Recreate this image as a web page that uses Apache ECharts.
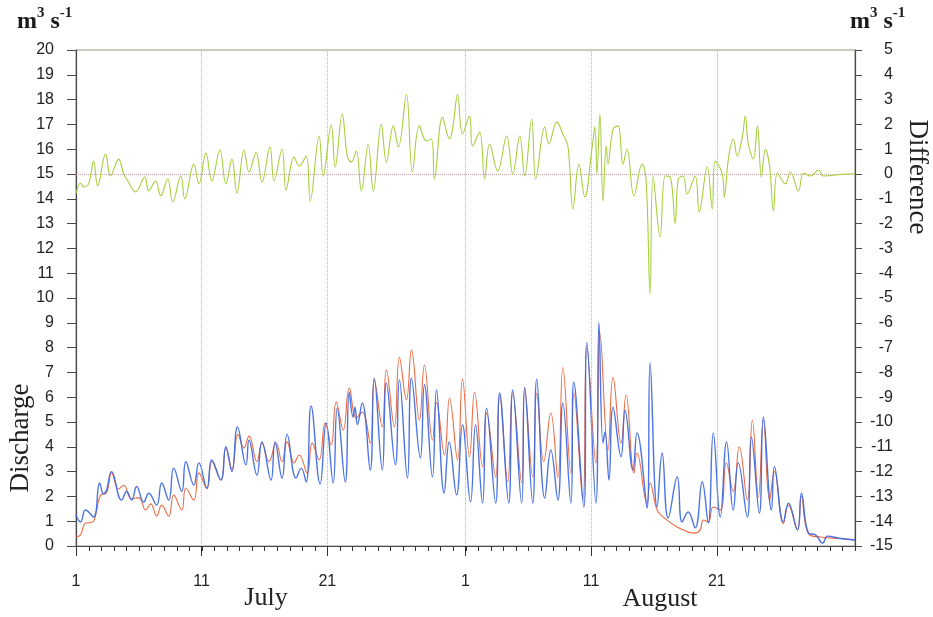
<!DOCTYPE html>
<html>
<head>
<meta charset="utf-8">
<script src="https://cdn.jsdelivr.net/npm/echarts@6/dist/echarts.min.js"></script>
<style>
  html, body { margin: 0; padding: 0; background: #ffffff; }
  #chart { width: 933px; height: 617px; }
</style>
</head>
<body>
<div id="chart"></div>
<script>
// Time axis: days since 1 July (0 = 1 July, 31 = 1 August, 62 = 1 September)
const dayTickValues = [0, 10, 20, 31, 41, 51];
const dayTickLabels = ['1', '11', '21', '1', '11', '21'];
const monthLabels = ['July', 'August'];

// Discharge (m3 s-1), blue trace: [day, value] at daily highs and lows
const dischargeSeriesA = [
  [0, 1.25], [0.36, 0.97], [0.76, 1.45], [1.4, 1.17], [1.88, 2.54], [2.19, 2.1], [2.43, 2.26], [2.83, 3.0],
  [3.63, 1.85], [4.03, 2.2], [4.43, 1.85], [4.83, 2.4], [5.39, 1.77], [5.79, 2.13], [6.42, 1.65], [6.82, 2.54],
  [7.38, 1.85], [7.78, 3.14], [8.42, 2.2], [8.74, 3.4], [9.38, 2.46], [9.78, 3.35], [10.42, 2.34], [10.81, 3.47],
  [11.53, 2.66], [11.93, 4.0], [12.41, 3.0], [12.85, 4.8], [13.53, 3.27], [13.77, 4.27], [14.4, 2.86], [14.8, 4.2],
  [15.52, 2.66], [15.84, 4.2], [16.4, 2.74], [16.8, 4.5], [17.52, 2.74], [17.92, 3.14], [18.32, 2.58], [18.71, 5.65],
  [19.43, 2.5], [19.91, 4.96], [20.47, 2.54], [20.79, 5.56], [21.43, 2.58], [21.75, 6.2], [22.05, 5.2], [22.2, 5.6],
  [22.4, 4.9], [22.78, 5.77], [23.42, 3.06], [23.74, 6.77], [24.38, 3.06], [24.7, 6.57], [25.42, 3.27], [25.74, 6.7],
  [26.38, 2.74], [26.7, 6.77], [27.41, 3.55], [27.73, 6.5], [28.37, 2.78], [28.69, 6.3], [29.3, 2.14], [29.7, 4.2],
  [30.29, 2.06], [30.76, 4.88], [31.4, 1.77], [31.8, 4.88], [32.36, 1.73], [32.68, 5.56], [33.4, 1.73], [33.72, 6.17],
  [34.44, 1.73], [34.76, 6.29], [35.47, 1.73], [35.71, 6.4], [36.35, 1.73], [36.67, 6.73], [37.31, 1.93], [37.79, 3.87],
  [38.35, 1.85], [38.75, 5.77], [39.39, 1.73], [39.62, 6.6], [40.42, 1.57], [40.66, 8.2], [41.38, 1.73], [41.62, 9.0],
  [41.94, 4.15], [42.1, 4.6], [42.42, 2.66], [42.74, 5.6], [43.38, 3.6], [43.7, 5.48], [44.33, 3.06], [44.65, 4.56],
  [45.45, 1.53], [45.69, 7.38], [46.25, 1.57], [46.65, 3.75], [47.13, 1.13], [47.85, 2.78], [48.24, 0.97], [48.72, 1.37],
  [49.28, 0.73], [49.84, 2.58], [50.32, 0.93], [50.72, 4.56], [51.28, 1.17], [51.78, 4.2], [52.31, 1.45], [52.71, 3.35],
  [53.43, 1.17], [53.75, 4.4], [54.39, 1.33], [54.71, 5.2], [55.35, 1.45], [55.59, 3.2], [56.3, 0.97], [56.7, 1.73],
  [57.42, 0.65], [57.74, 2.13], [58.3, 0.52], [58.86, 0.45], [59.42, 0.12], [59.82, 0.4], [60.86, 0.3], [62, 0.24]
];

// Discharge (m3 s-1), red trace
const dischargeSeriesB = [
  [0, 0.36], [0.36, 0.45], [0.76, 0.93], [1.16, 0.95], [1.4, 1.0], [1.56, 1.25], [1.96, 2.05], [2.43, 2.15],
  [2.83, 2.95], [3.39, 2.3], [3.79, 2.45], [4.43, 1.9], [4.99, 1.95], [5.55, 1.45], [5.95, 1.7], [6.42, 1.2],
  [6.82, 1.65], [7.38, 1.2], [7.78, 2.05], [8.42, 1.45], [8.74, 2.34], [9.38, 1.85], [9.78, 2.95], [10.42, 2.3],
  [10.81, 3.4], [11.53, 2.66], [11.93, 3.95], [12.41, 3.1], [12.89, 4.5], [13.37, 3.95], [13.77, 4.43], [14.4, 3.4],
  [14.8, 4.15], [15.36, 3.4], [15.92, 4.15], [16.4, 3.4], [16.8, 4.2], [17.36, 3.35], [17.76, 3.67], [18.4, 2.94],
  [18.8, 4.15], [19.35, 3.47], [19.83, 4.96], [20.31, 4.07], [20.71, 5.8], [21.27, 4.68], [21.75, 6.37], [22.31, 5.16],
  [22.78, 5.4], [23.42, 4.15], [23.74, 6.7], [24.38, 4.8], [24.7, 7.1], [25.34, 4.8], [25.74, 7.6], [26.3, 5.9],
  [26.7, 7.9], [27.33, 5.08], [27.73, 7.3], [28.37, 4.27], [28.69, 5.77], [29.33, 3.67], [29.73, 5.97], [30.37, 3.47],
  [30.76, 6.73], [31.32, 3.6], [31.72, 6.2], [32.36, 3.2], [32.68, 5.36], [33.4, 2.78], [33.72, 6.1], [34.36, 2.58],
  [34.76, 6.17], [35.47, 2.54], [35.71, 6.37], [36.35, 2.78], [36.67, 6.17], [37.23, 3.4], [37.79, 5.36], [38.35, 2.75],
  [38.75, 7.2], [39.39, 2.94], [39.62, 6.17], [40.34, 1.85], [40.66, 8.0], [41.38, 3.35], [41.7, 8.6], [42.34, 3.87],
  [42.74, 6.8], [43.38, 4.15], [43.78, 6.1], [44.41, 2.94], [44.65, 3.75], [45.45, 1.73], [45.69, 2.54], [46.25, 1.45],
  [46.73, 1.17], [47.85, 0.77], [49.28, 0.52], [49.68, 0.65], [49.92, 1.05], [50.32, 0.97], [50.72, 1.57], [51.28, 1.45],
  [51.76, 3.35], [52.31, 2.2], [52.79, 4.0], [53.43, 1.85], [53.83, 5.08], [54.31, 1.97], [54.71, 5.08], [55.2, 1.85],
  [55.59, 3.0], [56.3, 0.9], [56.7, 1.65], [57.42, 0.65], [57.74, 2.0], [58.3, 0.5], [59.26, 0.36], [60.86, 0.3], [62, 0.24]
];

// Difference between the two traces (m3 s-1), right-hand scale
const differenceSeries = [
  [0, -0.8], [0.36, -0.36], [0.6, -0.52], [1.0, -0.4], [1.4, 0.52], [1.72, -0.48], [2.35, 0.8], [2.75, -0.08],
  [3.39, 0.6], [3.79, 0.0], [4.03, -0.2], [4.75, -0.72], [5.47, -0.12], [5.79, -0.68], [6.34, -0.28], [6.74, -0.88],
  [7.3, -0.2], [7.7, -1.13], [8.34, -0.08], [8.66, -1.0], [9.38, 0.4], [9.78, -0.4], [10.34, 0.85], [10.81, -0.28],
  [11.45, 0.97], [11.93, -0.4], [12.41, 0.6], [12.81, -0.77], [13.37, 0.97], [13.77, 0.08], [14.33, 0.85], [14.8, -0.32],
  [15.44, 1.09], [15.76, -0.28], [16.4, 1.0], [16.72, -0.64], [17.36, 0.68], [17.76, 0.32], [18.32, 0.72], [18.64, -1.09],
  [19.35, 1.53], [19.67, -0.08], [20.31, 1.97], [20.63, 0.28], [21.19, 2.42], [21.59, 0.72], [21.91, 0.48], [22.31, 0.93],
  [22.71, -0.68], [23.26, 1.21], [23.66, -0.68], [24.3, 2.0], [24.7, 0.48], [25.26, 1.94], [25.66, 1.09], [26.3, 3.2],
  [26.77, 0.08], [27.33, 1.94], [27.89, 1.33], [28.29, 1.41], [28.53, -0.2], [29.17, 2.3], [29.73, 1.41], [29.97, 1.81],
  [30.37, 3.2], [30.76, 1.61], [31.32, 2.34], [31.56, 1.13], [32.12, 1.69], [32.52, -0.2], [32.92, 1.21], [33.56, 0.12],
  [34.28, 1.53], [34.76, 0.0], [35.32, 1.53], [35.71, -0.08], [36.27, 2.22], [36.59, -0.2], [37.31, 1.9], [37.63, 1.21],
  [38.27, 2.1], [38.75, 1.61], [39.15, 1.13], [39.55, -1.41], [40.02, 0.4], [40.5, -0.93], [41.06, 1.0], [41.3, 1.9],
  [41.46, 0.0], [41.7, 2.42], [41.94, -1.09], [42.2, 1.13], [42.34, 0.4], [42.74, 1.81], [43.14, 1.94], [43.53, 0.4],
  [43.85, 1.0], [44.41, -0.89], [45.05, 0.4], [45.37, -0.2], [45.69, -4.84], [45.93, -0.08], [46.49, -2.54], [46.89, -0.08],
  [47.29, -0.12], [47.69, -2.0], [47.93, -0.2], [48.32, -0.08], [48.64, -0.8], [49.28, -0.08], [49.6, -1.53], [50.24, 0.28],
  [50.64, -1.41], [50.88, 0.52], [51.44, 0.0], [51.6, -0.93], [51.92, 0.6], [52.31, 1.41], [52.63, 0.72], [53.03, 1.49],
  [53.27, 2.34], [53.51, 1.21], [53.91, 0.6], [54.23, 1.94], [54.55, -0.12], [54.87, 1.0], [55.2, 0.32], [55.51, -1.49],
  [55.83, 0.04], [56.46, -0.4], [56.86, 0.08], [57.5, -0.68], [57.9, 0.04], [58.46, -0.08], [59.1, 0.16], [59.5, -0.08],
  [61.5, 0], [62, 0]
];

const chart = echarts.init(document.getElementById('chart'));

const sansFont = '"Liberation Sans", Arial, sans-serif';
const serifFont = '"Liberation Serif", "Times New Roman", serif';
const axisColor = '#4a4a4a';

// Superscript unit label "m3 s-1"
function unitText(x) {
  return {
    type: 'text',
    left: x,
    top: 6,
    style: {
      text: '{b|m}{s|3}{b| s}{s|-1}',
      rich: {
        b: { fontFamily: serifFont, fontWeight: 'bold', fontSize: 24, fill: '#1a1a1a', verticalAlign: 'bottom', lineHeight: 28 },
        s: { fontFamily: serifFont, fontWeight: 'bold', fontSize: 15, fill: '#1a1a1a', verticalAlign: 'top', lineHeight: 28 }
      }
    }
  };
}

const textGraphics = [
  unitText(17),
  unitText(850),
  {
    type: 'text', x: 21, y: 438, rotation: Math.PI / 2,
    style: { text: 'Discharge', fontFamily: serifFont, fontSize: 27, fill: '#222', align: 'center', verticalAlign: 'middle' }
  },
  {
    type: 'text', x: 917, y: 177, rotation: -Math.PI / 2,
    style: { text: 'Difference', fontFamily: serifFont, fontSize: 27, fill: '#222', align: 'center', verticalAlign: 'middle' }
  },
  {
    type: 'text', x: 266, y: 598,
    style: { text: monthLabels[0], fontFamily: serifFont, fontSize: 26, fill: '#222', align: 'center', verticalAlign: 'middle' }
  },
  {
    type: 'text', x: 660, y: 599,
    style: { text: monthLabels[1], fontFamily: serifFont, fontSize: 26, fill: '#222', align: 'center', verticalAlign: 'middle' }
  }
];

const option = {
  animation: false,
  backgroundColor: '#ffffff',
  grid: {
    left: 76, right: 78, top: 50, bottom: 71,
    show: true, borderColor: '#8f9a80', borderWidth: 1, backgroundColor: 'transparent'
  },
  xAxis: [
    {
      // labelled axis with long ticks on the 1st, 11th and 21st
      type: 'value', min: 0, max: 62, position: 'bottom',
      axisLine: { show: true, onZero: false, lineStyle: { color: axisColor, width: 1 } },
      axisTick: { show: true, length: 10, customValues: dayTickValues, lineStyle: { color: '#333' } },
      axisLabel: {
        margin: 28, fontSize: 16, fontFamily: sansFont, color: '#222',
        customValues: dayTickValues,
        formatter: function (v) {
          const i = dayTickValues.indexOf(v);
          return i >= 0 ? dayTickLabels[i] : '';
        }
      },
      splitLine: { show: false }
    }
  ],
  yAxis: [
    {
      type: 'value', min: 0, max: 20, interval: 1, position: 'left',
      axisLine: { show: true, onZero: false, lineStyle: { color: axisColor, width: 1.2 } },
      axisTick: { show: true, length: 9, lineStyle: { color: axisColor } },
      axisLabel: { margin: 22, fontSize: 16, fontFamily: sansFont, color: '#222' },
      splitLine: { show: false }
    },
    {
      type: 'value', min: -15, max: 5, interval: 1, position: 'right',
      axisLine: { show: true, onZero: false, lineStyle: { color: axisColor, width: 1.2 } },
      axisTick: { show: true, length: 7, lineStyle: { color: axisColor } },
      axisLabel: { margin: 38, align: 'right', fontSize: 16, fontFamily: sansFont, color: '#222' },
      splitLine: { show: false }
    }
  ],
  series: [
    {
      name: 'Discharge B',
      type: 'line', xAxisIndex: 0, yAxisIndex: 0,
      data: dischargeSeriesB,
      smooth: 0.45, showSymbol: false, z: 3,
      lineStyle: { color: '#ee6a42', width: 1.1 }
    },
    {
      name: 'Discharge A',
      type: 'line', xAxisIndex: 0, yAxisIndex: 0,
      data: dischargeSeriesA,
      smooth: 0.45, showSymbol: false, z: 4,
      lineStyle: { color: '#3d68e2', width: 1.4, opacity: 0.92 }
    },
    {
      name: 'Difference',
      type: 'line', xAxisIndex: 0, yAxisIndex: 1,
      data: differenceSeries,
      smooth: 0.4, showSymbol: false, z: 5,
      lineStyle: { color: '#a6cf3c', width: 1.1 },
      markLine: {
        silent: true, symbol: 'none', label: { show: false },
        data: [
          { yAxis: 0, lineStyle: { color: '#c9a2a2', type: 'dotted', width: 1 } },
          { xAxis: 10 }, { xAxis: 20 }, { xAxis: 31 }, { xAxis: 41 }, { xAxis: 51 }
        ],
        lineStyle: { color: '#b5b5b5', type: 'dotted', width: 1 }
      }
    }
  ],
  graphic: textGraphics
};

chart.setOption(option);

// Short daily ticks under the time axis, placed through the axis scale
const axisY = chart.convertToPixel({ yAxisIndex: 0 }, 0);
const dayTicks = [];
for (let d = 0; d <= 62; d++) {
  const px = Math.round(chart.convertToPixel({ xAxisIndex: 0 }, d)) + 0.5;
  dayTicks.push({
    type: 'line', silent: true, z: 10,
    shape: { x1: px, y1: axisY, x2: px, y2: axisY + 5 },
    style: { stroke: '#333', lineWidth: 1 }
  });
}
chart.setOption({ graphic: textGraphics.concat(dayTicks) });
</script>
</body>
</html>
